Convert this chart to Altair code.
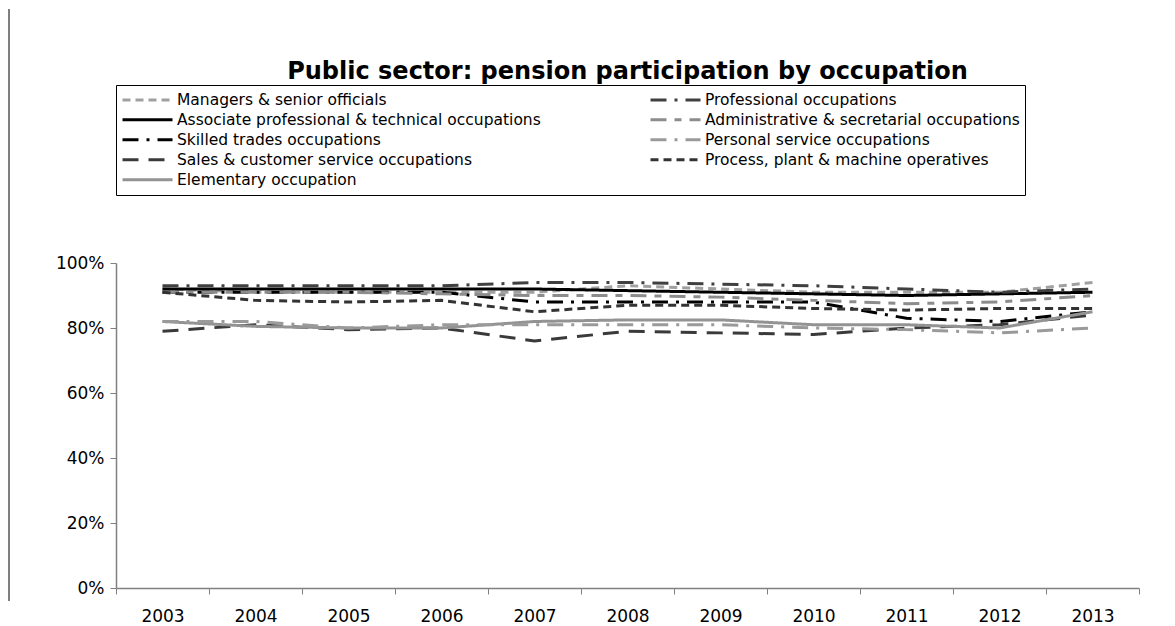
import altair as alt
import pandas as pd

years = [str(y) for y in range(2003, 2014)]

# legend is filled column by column: left column first, then right column
occupations = [
    "Managers & senior officials",
    "Associate professional & technical occupations",
    "Skilled trades occupations",
    "Sales & customer service occupations",
    "Elementary occupation",
    "Professional occupations",
    "Administrative & secretarial occupations",
    "Personal service occupations",
    "Process, plant & machine operatives",
]

managers = [0.92, 0.91, 0.91, 0.91, 0.91, 0.93, 0.92, 0.91, 0.91, 0.91, 0.94]
associate = [0.92, 0.92, 0.92, 0.92, 0.92, 0.915, 0.91, 0.905, 0.90, 0.905, 0.91]
skilled = [0.91, 0.91, 0.91, 0.91, 0.88, 0.88, 0.88, 0.88, 0.83, 0.82, 0.85]
sales = [0.79, 0.81, 0.795, 0.80, 0.76, 0.79, 0.785, 0.78, 0.80, 0.81, 0.84]
elementary = [0.82, 0.805, 0.80, 0.80, 0.82, 0.825, 0.825, 0.81, 0.81, 0.80, 0.85]
professional = [0.93, 0.93, 0.93, 0.93, 0.94, 0.94, 0.935, 0.93, 0.92, 0.91, 0.92]
administrative = [0.91, 0.91, 0.91, 0.905, 0.90, 0.90, 0.895, 0.885, 0.875, 0.88, 0.90]
personal = [0.82, 0.82, 0.80, 0.81, 0.81, 0.81, 0.81, 0.80, 0.795, 0.785, 0.80]
process = [0.91, 0.885, 0.88, 0.885, 0.85, 0.87, 0.87, 0.86, 0.855, 0.86, 0.86]

series = [managers, associate, skilled, sales, elementary,
          professional, administrative, personal, process]

colors = ["#a0a0a0", "#000000", "#000000", "#3a3a3a", "#939393",
          "#404040", "#8c8c8c", "#9a9a9a", "#333333"]
dashes = [[8, 5], [1, 0], [16, 8, 3, 8], [16, 10], [1, 0],
          [16, 8, 3, 8], [16, 8, 7, 8], [16, 8, 3, 8], [8, 5]]

rows = []
for occ, vals in zip(occupations, series):
    for yr, v in zip(years, vals):
        rows.append({"year": yr, "occupation": occ, "value": v})
df = pd.DataFrame(rows)

FONT = "DejaVu Sans"

legend_opts = dict(title=None, orient="none", legendX=0, legendY=-178,
                   columns=2, columnPadding=108, rowPadding=0, clipHeight=19.5,
                   gridAlign="all",
                   symbolType="stroke", symbolSize=2500,
                   symbolStrokeWidth=3, labelFontSize=15.5,
                   labelFont=FONT, labelColor="black",
                   labelOffset=3, labelLimit=800,
                   strokeColor="black", padding=5)

lines = alt.Chart(df).mark_line(strokeWidth=3).encode(
    x=alt.X("year:O", bandPosition=0.5,
            scale=alt.Scale(type="band", paddingInner=0, paddingOuter=0),
            axis=alt.Axis(title=None, labelAngle=0, tickBand="extent",
                          labelFontSize=17, labelFont=FONT, labelColor="black",
                          domainColor="#808080", tickColor="#808080",
                          tickSize=6, labelPadding=14, domainWidth=1.5)),
    y=alt.Y("value:Q",
            scale=alt.Scale(domain=[0, 1]),
            axis=alt.Axis(title=None, format=".0%", values=[0, 0.2, 0.4, 0.6, 0.8, 1.0],
                          grid=False, labelFontSize=17, labelFont=FONT,
                          labelColor="black", domainColor="#808080",
                          tickColor="#808080", tickSize=6, labelPadding=6,
                          domainWidth=1.5)),
    color=alt.Color("occupation:N", sort=occupations,
                    scale=alt.Scale(domain=occupations, range=colors),
                    legend=alt.Legend(**legend_opts)),
    strokeDash=alt.StrokeDash("occupation:N", sort=occupations,
                              scale=alt.Scale(domain=occupations, range=dashes),
                              legend=alt.Legend(**legend_opts)),
)

border = alt.Chart(pd.DataFrame({"k": [0]})).mark_rule(color="#555555", strokeWidth=1.5).encode(
    x=alt.value(-107), y=alt.value(-254), y2=alt.value(338)
)

chart = alt.layer(lines, border).properties(
    width=1023, height=325,
    padding={"left": 0, "top": 0, "right": 0, "bottom": 0},
    title=alt.TitleParams("Public sector: pension participation by occupation",
                          fontSize=24, font=FONT, fontWeight="bold", color="black",
                          anchor="middle", offset=-76),
).configure_view(stroke=None)

chart.save("out.html", embed_options={"renderer": "svg", "actions": False})
